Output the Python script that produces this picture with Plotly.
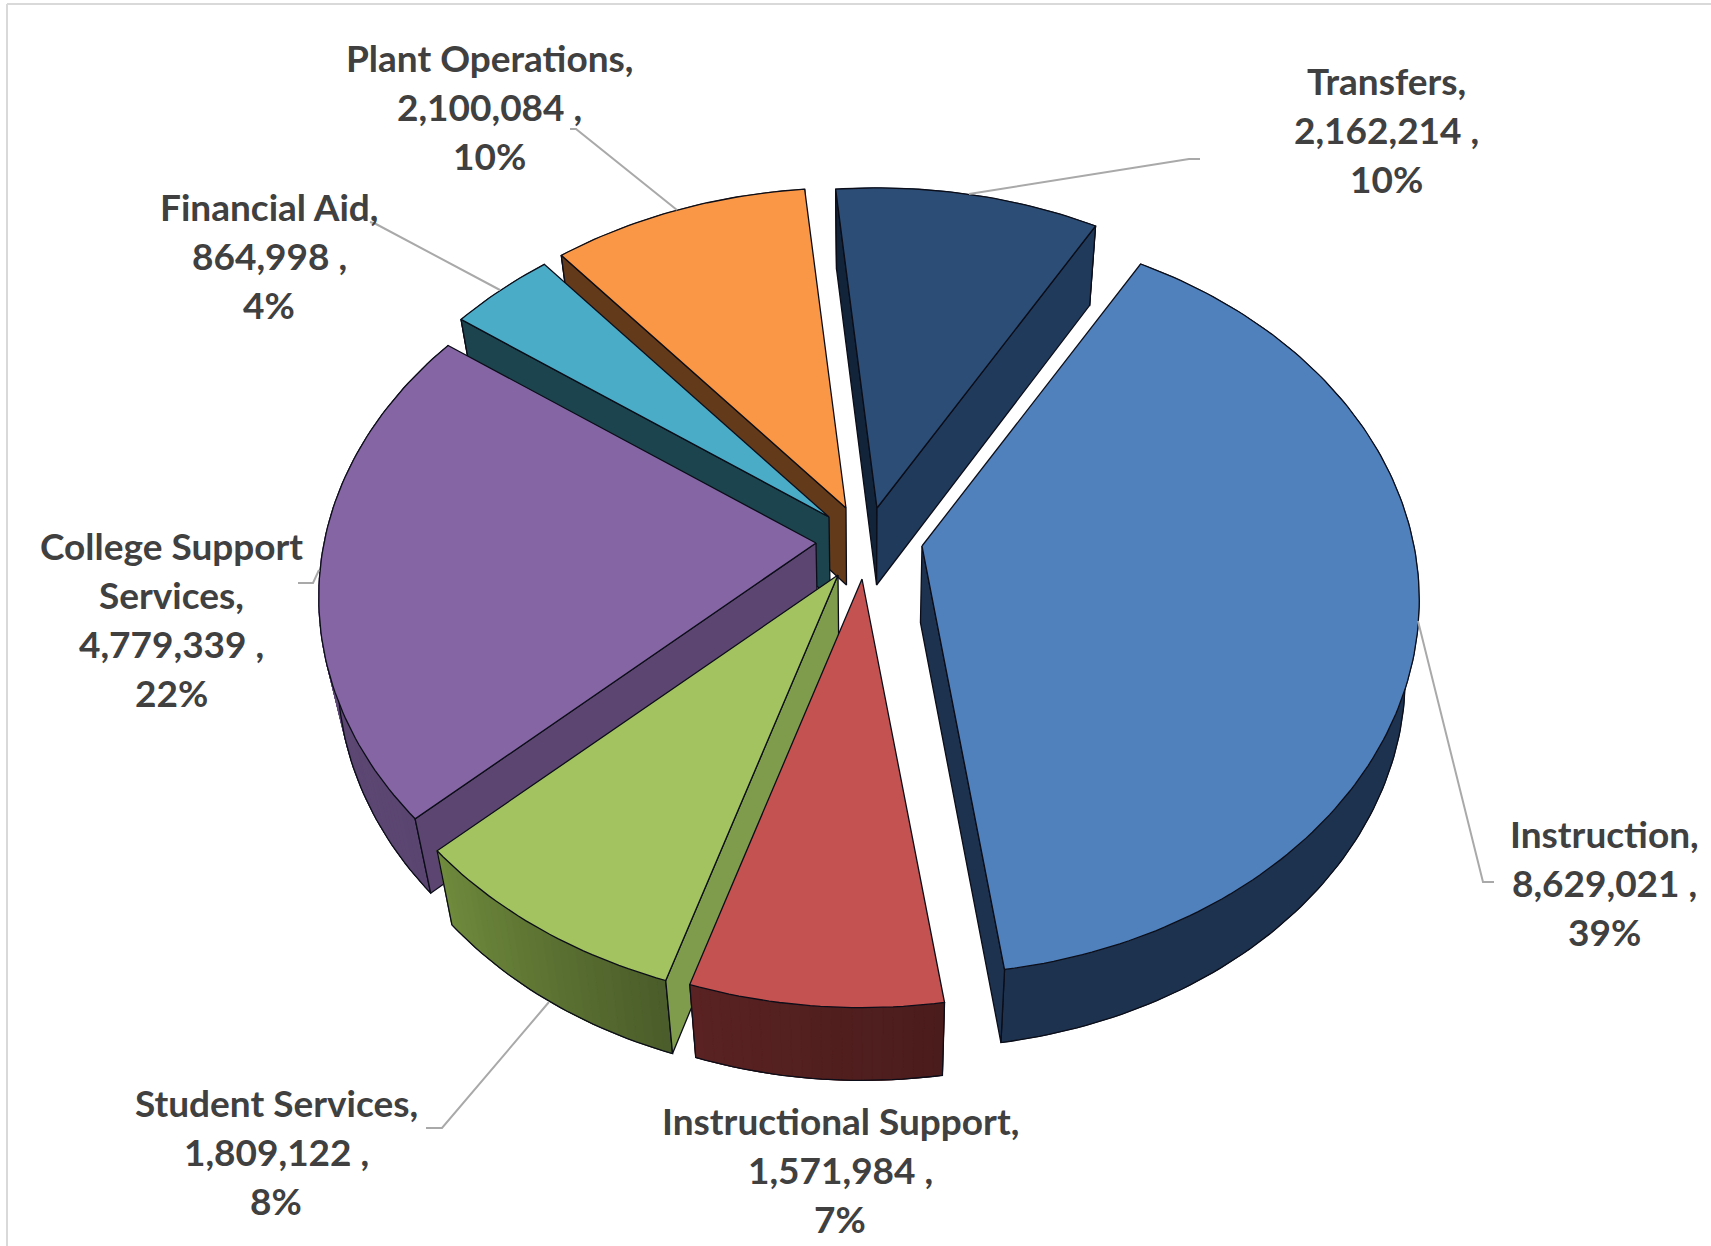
import math
import plotly.graph_objects as go

# Budget by category, clockwise from the first slice
categories = ["Instruction", "Instructional Support", "Student Services",
              "College Support Services", "Financial Aid", "Plant Operations", "Transfers"]
amounts = [8629021, 1571984, 1809122, 4779339, 864998, 2100084, 2162214]

# Exploded offset of each slice's apex from the pie centre, in screen pixels
pull_x = [62, 2, -22, -44, -31, -14, 17]
pull_y = [6, 39, 35, 3, -23, -32, -32]

top_colors = ["#5081BD", "#C45250", "#A2C35F", "#8565A3", "#4BACC8", "#F99746", "#2C4D75"]
start_cut = ["#1D324F", "#4D1C1C", "#7E9C4B", "#5D4571", "#1C444E", "#633A1A", "#12243A"]
end_cut = ["#1D324F", "#4D1C1C", "#5F7434", "#5D4571", "#1C444E", "#633A1A", "#203A5C"]
wall_from = ["#1D324F", "#4B1C1C", "#4B5D2A", "#5A4470", "#1C444E", "#633A1A", "#203A5C"]
wall_to = ["#1D324F", "#5A2222", "#6F8A3C", "#67527E", "#1C444E", "#633A1A", "#203A5C"]

# Painter's order, far slices first
draw_order = [6, 0, 5, 4, 3, 2, 1]

# Leader lines from slice to label
leaders = [
    ([1418, 1483, 1494], [621, 882, 882]),
    ([677, 576, 570], [210, 129, 129]),
    ([500, 376, 370], [290, 224, 222]),
    ([969, 1189, 1200], [194, 159, 159]),
    ([319, 313, 298], [570, 583, 583]),
    ([549, 442, 426], [1002, 1128, 1128]),
]

# Label anchor: centre x, first line y
label_x = [1604, 840, 276, 171, 269, 489, 1386]
label_y = [833, 1120, 1102, 545, 206, 57, 80]
label_wrap = {"College Support Services": ["College Support", "Services,"]}
LINE_GAP = 49

# Projection of the tilted disc
CX, CY = 860, 540
RADIUS, FORESHORTEN, PERSPECTIVE = 492, 0.745, 0.145
START_DEG = 30.0
OUTLINE = "#0B0D18"
OUTLINE_W = 1.3


def rim(theta_deg, ax, ay):
    t = math.radians(theta_deg)
    w = 1 + PERSPECTIVE * math.cos(t)
    return (ax + RADIUS * math.sin(t) / w,
            ay - RADIUS * FORESHORTEN * math.cos(t) / w)


def drop(p):
    """Point on the underside directly below a top-face point."""
    x, y = p
    shrink = 0.975 if x > CX else 0.965
    return (CX + (x - CX) * shrink, y + 77 - 0.0085 * (y - 507))


def mix(a, b, f):
    ca = [int(a[i:i + 2], 16) for i in (1, 3, 5)]
    cb = [int(b[i:i + 2], 16) for i in (1, 3, 5)]
    return "#" + "".join(f"{round(u + (v - u) * f):02X}" for u, v in zip(ca, cb))


def polygon(points, fill, edge=None, width=OUTLINE_W):
    xs = [p[0] for p in points] + [points[0][0]]
    ys = [p[1] for p in points] + [points[0][1]]
    return go.Scatter(x=xs, y=ys, mode="lines", fill="toself", fillcolor=fill,
                      line=dict(color=edge or fill, width=width if edge else 1.0),
                      hoverinfo="skip", showlegend=False)


def cut_visible(apex, tip, inside):
    """A radial cut shows only when the underside lies outside the top face."""
    low = drop(apex)
    ex, ey = tip[0] - apex[0], tip[1] - apex[1]
    side_drop = ex * (low[1] - apex[1]) - ey * (low[0] - apex[0])
    side_top = ex * (inside[1] - apex[1]) - ey * (inside[0] - apex[0])
    return side_drop * side_top < 0


total = sum(amounts)
fig = go.Figure()

# Slice boundaries in degrees clockwise from the far side of the disc
bounds = [START_DEG]
for v in amounts:
    bounds.append(bounds[-1] + v / total * 360)

for i in draw_order:
    ax, ay = CX + pull_x[i], CY + pull_y[i]
    a0, a1 = bounds[i], bounds[i + 1]
    steps = max(8, int(a1 - a0))
    arc = [rim(a0 + (a1 - a0) * s / steps, ax, ay) for s in range(steps + 1)]
    under = [drop(p) for p in arc]
    apex = (ax, ay)

    # Outer wall: solid base, then shaded strips where the colour changes
    fig.add_trace(polygon(arc + under[::-1], mix(wall_from[i], wall_to[i], 0.5)))
    if wall_from[i] != wall_to[i]:
        for s in range(steps):
            quad = [arc[s], arc[s + 1], under[s + 1], under[s]]
            fig.add_trace(polygon(quad, mix(wall_from[i], wall_to[i], s / max(steps - 1, 1))))
    fig.add_trace(go.Scatter(
        x=[arc[0][0]] + [p[0] for p in under] + [arc[-1][0]],
        y=[arc[0][1]] + [p[1] for p in under] + [arc[-1][1]],
        mode="lines", line=dict(color=OUTLINE, width=OUTLINE_W),
        hoverinfo="skip", showlegend=False))

    # Radial cut faces, only the ones facing the viewer
    middle = arc[len(arc) // 2]
    if cut_visible(apex, arc[0], middle):
        fig.add_trace(polygon([apex, arc[0], under[0], drop(apex)], start_cut[i], OUTLINE))
    if cut_visible(apex, arc[-1], middle):
        fig.add_trace(polygon([apex, arc[-1], under[-1], drop(apex)], end_cut[i], OUTLINE))

    fig.add_trace(polygon([apex] + arc, top_colors[i], OUTLINE))

for xs, ys in leaders:
    fig.add_trace(go.Scatter(x=xs, y=ys, mode="lines",
                             line=dict(color="#A9A9A9", width=2),
                             hoverinfo="skip", showlegend=False))

# Data labels: name, amount, share
for name, value, lx, ly in zip(categories, amounts, label_x, label_y):
    head = label_wrap.get(name, [name + ","])
    lines = head + [f"{value:,} ,", f"{value / total * 100:.0f}%"]
    for n, text in enumerate(lines):
        fig.add_annotation(x=lx, y=ly + n * LINE_GAP, text=text, showarrow=False,
                           xanchor="center", yanchor="middle",
                           font=dict(family="Lato", size=37, color="#404040", weight="bold"))

fig.update_layout(
    width=1711, height=1246, margin=dict(l=0, r=0, t=0, b=0),
    paper_bgcolor="white", plot_bgcolor="white", showlegend=False,
    xaxis=dict(range=[0, 1711], visible=False, fixedrange=True),
    yaxis=dict(range=[1246, 0], visible=False, fixedrange=True),
    shapes=[
        dict(type="line", x0=7, x1=1711, y0=4, y1=4, line=dict(color="#D9D9D9", width=2)),
        dict(type="line", x0=7, x1=7, y0=4, y1=1246, line=dict(color="#D9D9D9", width=2)),
    ],
)

fig.write_html("out.html")
